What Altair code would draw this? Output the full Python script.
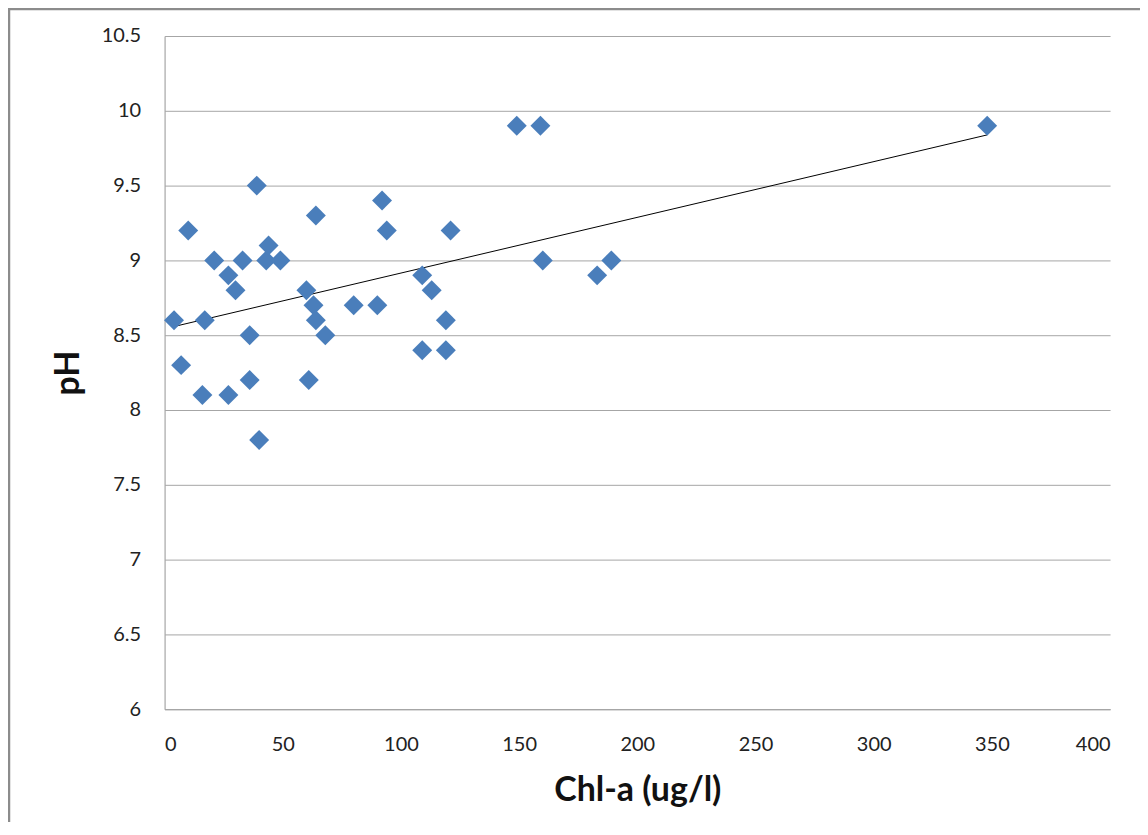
import altair as alt
import pandas as pd

chla = [4, 7, 10, 16, 17, 21, 27, 27, 30, 33, 36, 36, 39, 40, 43, 44, 49,
        60, 61, 63, 64, 64, 68, 80, 90, 92, 94, 109, 109, 113, 119, 119, 121,
        149, 159, 160, 183, 189, 348]
ph = [8.6, 8.3, 9.2, 8.1, 8.6, 9.0, 8.9, 8.1, 8.8, 9.0, 8.5, 8.2, 9.5, 7.8, 9.0, 9.1, 9.0,
      8.8, 8.2, 8.7, 9.3, 8.6, 8.5, 8.7, 8.7, 9.4, 9.2, 8.9, 8.4, 8.8, 8.6, 8.4, 9.2,
      9.9, 9.9, 9.0, 8.9, 9.0, 9.9]

df = pd.DataFrame({"chla": chla, "ph": ph})

FONT = "Lato"

x = alt.X("chla:Q", title="Chl-a (ug/l)",
          scale=alt.Scale(domain=[0, 400], nice=False),
          axis=alt.Axis(values=list(range(0, 401, 50)), grid=False, ticks=False,
                        labelFontSize=20, labelPadding=25, titleFontSize=34,
                        titlePadding=20))
y = alt.Y("ph:Q", title="pH",
          scale=alt.Scale(domain=[6, 10.5], nice=False, zero=False),
          axis=alt.Axis(values=[6, 6.5, 7, 7.5, 8, 8.5, 9, 9.5, 10, 10.5],
                        format=".10~g", ticks=False, labelFontSize=20,
                        labelPadding=24, titleFontSize=34, titlePadding=16))

points = alt.Chart(df).mark_point(shape="diamond", filled=True, size=400,
                                  color="#4a7ebb", opacity=1).encode(x=x, y=y)

trend = alt.Chart(df).transform_regression(
    "chla", "ph", extent=[min(chla), max(chla)]
).mark_line(color="#000000", strokeWidth=1).encode(x=x, y=y)

frame = alt.Chart(df.head(1)).mark_rect(
    filled=False, stroke="#8c8c8c", strokeWidth=2.5, clip=False
).encode(x=alt.value(-156), x2=alt.value(1100), y=alt.value(-27), y2=alt.value(900))

chart = alt.layer(frame, trend, points).properties(
    width=948, height=675,
    autosize=alt.AutoSizeParams(type="none"),
    padding={"left": 157, "top": 27, "right": 30, "bottom": 112},
).configure_view(stroke=None).configure_axis(
    labelFont=FONT, titleFont=FONT, labelColor="#222222", titleColor="#111111",
    domainColor="#a6a6a6", gridColor="#a6a6a6", domainWidth=1.2, gridWidth=1,
    titleFontWeight="bold"
)

chart.save("out.html", embed_options={"renderer": "svg", "actions": False})
